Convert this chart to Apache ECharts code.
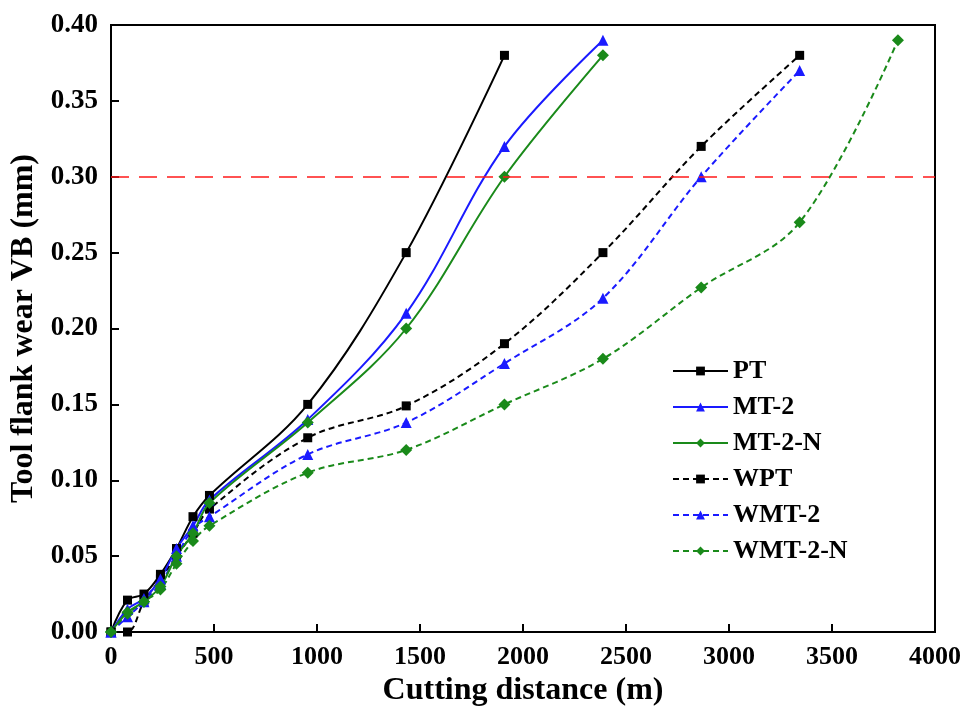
<!DOCTYPE html>
<html><head><meta charset="utf-8">
<script src="https://cdn.jsdelivr.net/npm/echarts@6/dist/echarts.min.js"></script>
<style>html,body{margin:0;padding:0;background:#fff}#c{width:975px;height:706px}</style>
</head><body><div id="c"></div>
<script>
const distShort = [0, 80, 160, 240, 318, 398, 478, 955, 1433, 1910];
const distMid = [0, 80, 160, 240, 318, 398, 478, 955, 1433, 1910, 2388];
const distLong = [0, 80, 160, 240, 318, 398, 478, 955, 1433, 1910, 2388, 2865, 3343];
const distLongest = [0, 80, 160, 240, 318, 398, 478, 955, 1433, 1910, 2388, 2865, 3343, 3820];
const PT = [0, 0.021, 0.025, 0.038, 0.055, 0.076, 0.090, 0.150, 0.250, 0.380];
const MT2 = [0, 0.015, 0.022, 0.035, 0.055, 0.070, 0.087, 0.140, 0.210, 0.320, 0.390];
const MT2N = [0, 0.013, 0.020, 0.030, 0.050, 0.065, 0.085, 0.138, 0.200, 0.300, 0.380];
const WPT = [0, 0.000, 0.020, 0.035, 0.050, 0.065, 0.081, 0.128, 0.149, 0.190, 0.250, 0.320, 0.380];
const WMT2 = [0, 0.010, 0.020, 0.032, 0.050, 0.068, 0.076, 0.117, 0.138, 0.177, 0.220, 0.300, 0.370];
const WMT2N = [0, 0.012, 0.020, 0.028, 0.045, 0.060, 0.070, 0.105, 0.120, 0.150, 0.180, 0.227, 0.270, 0.390];
const limitVB = 0.30;

const font = 'Liberation Serif';
function pairs(xs, ys){ return ys.map((v,i)=>[xs[i], v]); }
function mk(name, xs, ys, color, symbol, size, dashed){
  return {
    name, type:'line', data: pairs(xs, ys), smooth: 0.35,
    symbol, symbolSize: size,
    lineStyle:{color, width:2, type: dashed ? [6,4] : 'solid'},
    itemStyle:{color},
    z: dashed ? 2 : 3
  };
}
const series = [
  mk('PT', distShort, PT, '#000000', 'rect', 9, false),
  mk('MT-2', distMid, MT2, '#1a1aff', 'triangle', 11, false),
  mk('MT-2-N', distMid, MT2N, '#1a8a1a', 'diamond', 12, false),
  mk('WPT', distLong, WPT, '#000000', 'rect', 9, true),
  mk('WMT-2', distLong, WMT2, '#1a1aff', 'triangle', 11, true),
  mk('WMT-2-N', distLongest, WMT2N, '#1a8a1a', 'diamond', 12, true)
];
series[0].markLine = {
  silent:true, symbol:['none','none'], label:{show:false},
  lineStyle:{color:'#ff1a1a', type:[18,10], width:1.6},
  data:[{yAxis: limitVB}]
};
const chart = echarts.init(document.getElementById('c'), null, {renderer:'canvas'});
chart.setOption({
  backgroundColor:'#fff',
  animation:false,
  grid:{left:111, right:40, top:25, bottom:74, outerBoundsMode:'none', containLabel:false,
        show:true, borderColor:'#000', borderWidth:2, backgroundColor:'transparent'},
  legend:{
    orient:'vertical', left:667, top:353, itemWidth:55, itemHeight:11, itemGap:10,
    textStyle:{fontFamily:font, fontWeight:'bold', fontSize:26, color:'#000'},
    data:['PT','MT-2','MT-2-N','WPT','WMT-2','WMT-2-N']
  },
  xAxis:{
    type:'value', min:0, max:4000, interval:500,
    name:'Cutting distance (m)', nameLocation:'middle', nameGap:43,
    nameTextStyle:{fontFamily:font, fontWeight:'bold', fontSize:32, color:'#000'},
    axisLine:{lineStyle:{color:'#000', width:2}},
    axisTick:{inside:true, length:8, lineStyle:{color:'#000', width:2}},
    axisLabel:{fontFamily:font, fontWeight:'bold', fontSize:26, color:'#000', margin:12, formatter:v=>String(v)},
    splitLine:{show:false}
  },
  yAxis:{
    type:'value', min:0, max:0.40, interval:0.05,
    name:'Tool flank wear VB (mm)', nameLocation:'middle', nameGap:66,
    nameTextStyle:{fontFamily:font, fontWeight:'bold', fontSize:32, color:'#000'},
    axisLine:{lineStyle:{color:'#000', width:2}},
    axisTick:{inside:true, length:8, lineStyle:{color:'#000', width:2}},
    axisLabel:{fontFamily:font, fontWeight:'bold', fontSize:27, color:'#000', margin:13, formatter:v=>v.toFixed(2)},
    splitLine:{show:false}
  },
  series
});
</script></body></html>
